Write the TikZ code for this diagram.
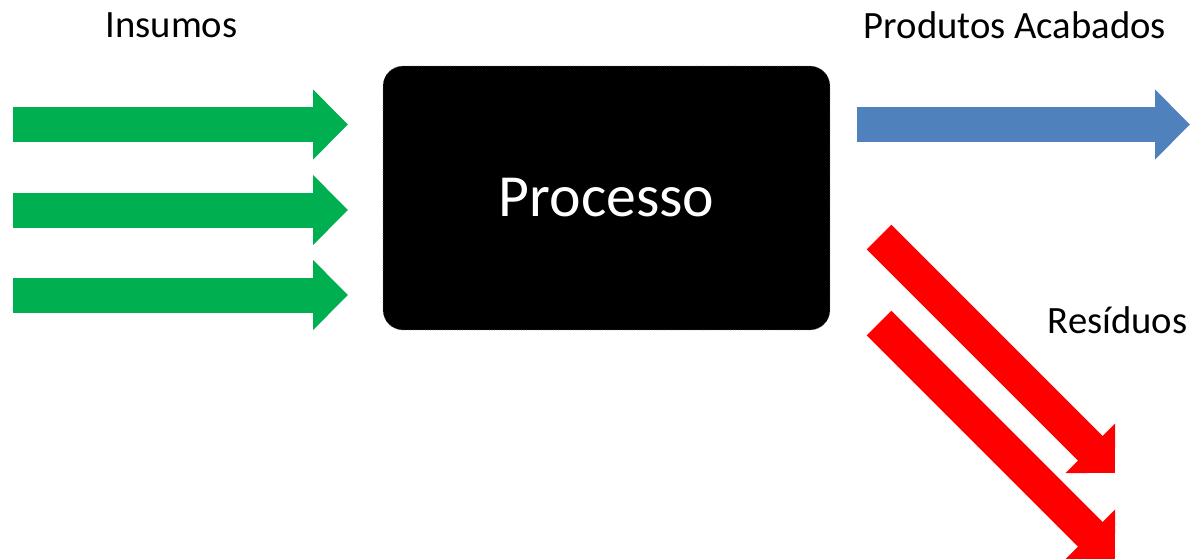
\documentclass[tikz,border=0pt]{standalone}
\usepackage{fontspec}
\setmainfont{Carlito}
\usetikzlibrary{arrows.meta,calc}
\definecolor{INGreen}{HTML}{00B050}
\definecolor{OUTBlue}{HTML}{4F81BD}
\definecolor{WSRed}{HTML}{FF0000}
\tikzset{
    procbox/.style = {fill=black, draw=black!55, densely dotted, rounded corners=0.4cm,
        minimum width=8.94cm, minimum height=5.28cm, text=white,
        font=\fontsize{34}{40}\selectfont},
    label/.style = {font=\fontsize{22}{26}\selectfont, inner sep=0pt},
    flow/.style = {draw, line width=0.7cm, -{Triangle[length=0.7cm,width=1.36cm]}}
}

\begin{document}
\begin{tikzpicture}[x=0.02cm,y=-0.02cm]
                    \useasboundingbox (0,0) rectangle (1197,558);
                    \node[procbox] (proc) at (606.5,198) {Processo};
                    \node[label] (ins) at (171.5,25) {Insumos};
                    \node[label] (prod) at (1015,25) {Produtos Acabados};
                    \node[label] (res) at (1117.5,320) {Resíduos};
                    % entradas
                    \foreach \i/\y in {1/124.5,2/210,3/295}{
                        \coordinate (in\i) at (13,\y);
                        \coordinate (inend\i) at (348,\y);
                        \draw[flow,INGreen] (in\i) -- (inend\i);
                    }
                    % saidas
                    \coordinate (out) at (857,124.5);
                    \coordinate (outend) at (1190,124.5);
                    \draw[flow,OUTBlue] (out) -- (outend);
                    \foreach \i/\y in {1/237,2/323}{
                        \coordinate (ws\i) at (879,\y);
                        \coordinate (wsend\i) at ($(ws\i)+(236,236)$);
                        \draw[flow,WSRed] (ws\i) -- (wsend\i);
                    }
\end{tikzpicture}
\end{document}
